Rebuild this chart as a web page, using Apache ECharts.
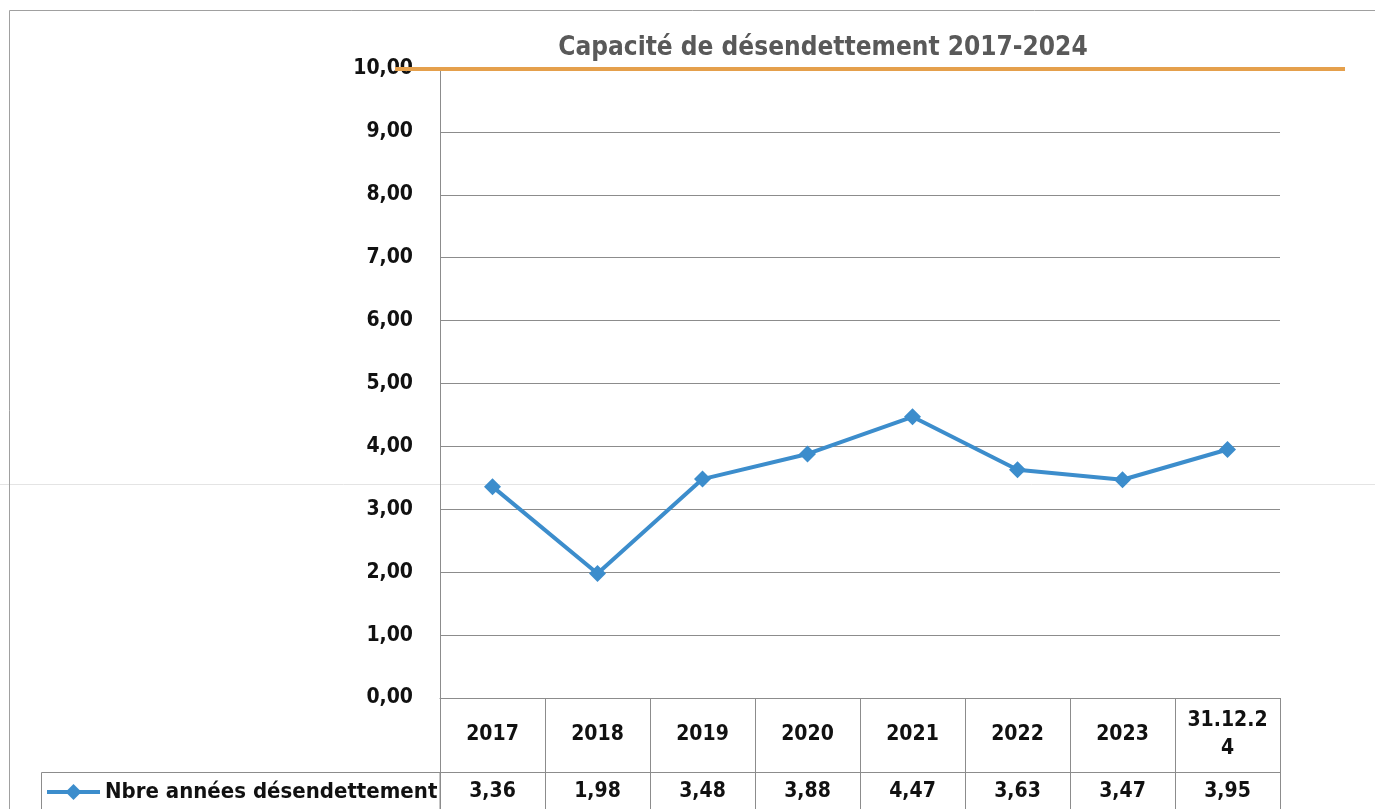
<!DOCTYPE html>
<html>
<head>
<meta charset="utf-8">
<script src="https://cdn.jsdelivr.net/npm/echarts@6/dist/echarts.min.js"></script>
<style>
  html, body { margin: 0; padding: 0; background: #fff; }
  #chart { width: 1375px; height: 809px; }
</style>
</head>
<body>
<div id="chart"></div>
<script>
// données du graphique
const annees = ['2017', '2018', '2019', '2020', '2021', '2022', '2023', '31.12.2\n4']
const nbreAnnees = [3.36, 1.98, 3.48, 3.88, 4.47, 3.63, 3.47, 3.95]
const seuil = [10, 10]
const yMin = 0
const yMax = 10
const yPas = 1

const police = "'Liberation Sans Narrow', 'DejaVu Sans Condensed', 'Liberation Sans', sans-serif"
const gris = '#8c8c8c'
const virgule = v => v.toFixed(2).replace('.', ',')

const chart = echarts.init(document.getElementById('chart'))
const option = {
  backgroundColor: '#fff',
  animation: false,
  title: {
    text: 'Capacité de désendettement 2017-2024',
    left: 818,
    textAlign: 'center',
    top: 30,
    textStyle: { fontFamily: police, fontSize: 26, fontWeight: 'bold', color: '#595959' }
  },
  legend: {
    left: 45,
    top: 781,
    padding: 0,
    itemWidth: 53,
    itemHeight: 20,
    itemGap: 2,
    lineStyle: { width: 4 },
    textStyle: { fontFamily: police, fontSize: 22, fontWeight: 'bold', color: '#111' },
    data: ['Nbre années désendettement']
  },
  grid: [
    { left: 440, right: 95, top: 69, bottom: 111 },
    { left: 395, right: 30, top: 69, bottom: 111 }
  ],
  xAxis: [
    {
      type: 'category',
      gridIndex: 0,
      data: annees,
      boundaryGap: true,
      axisLine: { show: true, lineStyle: { color: gris, width: 1 } },
      axisTick: { show: true, interval: 0, length: 115, lineStyle: { color: gris, width: 1 } },
      axisLabel: {
        interval: 0,
        margin: 37,
        verticalAlign: 'middle',
        fontFamily: police, fontSize: 21, fontWeight: 'bold', color: '#111', lineHeight: 28
      },
      splitLine: { show: false }
    },
    {
      type: 'category',
      gridIndex: 0,
      position: 'bottom',
      offset: 74,
      data: annees,
      boundaryGap: true,
      axisLine: { show: true, lineStyle: { color: gris, width: 1 } },
      axisTick: { show: false },
      axisLabel: {
        interval: 0,
        margin: 20,
        verticalAlign: 'middle',
        fontFamily: police, fontSize: 21, fontWeight: 'bold', color: '#111',
        formatter: (v, i) => virgule(nbreAnnees[i])
      }
    },
    {
      type: 'category',
      gridIndex: 1,
      data: ['', ''],
      boundaryGap: false,
      show: false
    }
  ],
  yAxis: [
    {
      type: 'value',
      gridIndex: 0,
      min: yMin,
      max: yMax,
      interval: yPas,
      axisLine: { show: true, lineStyle: { color: gris, width: 1 } },
      axisTick: { show: false },
      axisLabel: {
        margin: 27,
        fontFamily: police, fontSize: 21, fontWeight: 'bold', color: '#111',
        formatter: v => virgule(v)
      },
      splitLine: { show: true, lineStyle: { color: gris, width: 1 } }
    },
    {
      type: 'value',
      gridIndex: 1,
      min: yMin,
      max: yMax,
      show: false
    }
  ],
  series: [
    {
      name: 'Nbre années désendettement',
      type: 'line',
      xAxisIndex: 0,
      yAxisIndex: 0,
      data: nbreAnnees,
      symbol: 'diamond',
      symbolSize: 17,
      lineStyle: { color: '#3c8dcc', width: 4 },
      itemStyle: { color: '#3c8dcc' },
      z: 5
    },
    {
      name: 'seuil',
      type: 'line',
      xAxisIndex: 2,
      yAxisIndex: 1,
      data: seuil,
      symbol: 'none',
      lineStyle: { color: '#e5a04c', width: 4 },
      z: 6,
      silent: true
    }
  ],
  graphic: [
    {
      type: 'rect',
      shape: { x: 9.5, y: 10.5, width: 1400, height: 850 },
      style: { fill: null, stroke: '#a0a0a0', lineWidth: 1 },
      silent: true
    },
    {
      type: 'rect',
      shape: { x: 41.5, y: 772.5, width: 398.5, height: 60 },
      style: { fill: null, stroke: gris, lineWidth: 1 },
      silent: true
    },
    {
      type: 'line',
      shape: { x1: 0, y1: 484.5, x2: 1375, y2: 484.5 },
      style: { stroke: '#e4e4e4', lineWidth: 1 },
      silent: true,
      z: -1
    }
  ]
}
chart.setOption(option)
</script>
</body>
</html>
